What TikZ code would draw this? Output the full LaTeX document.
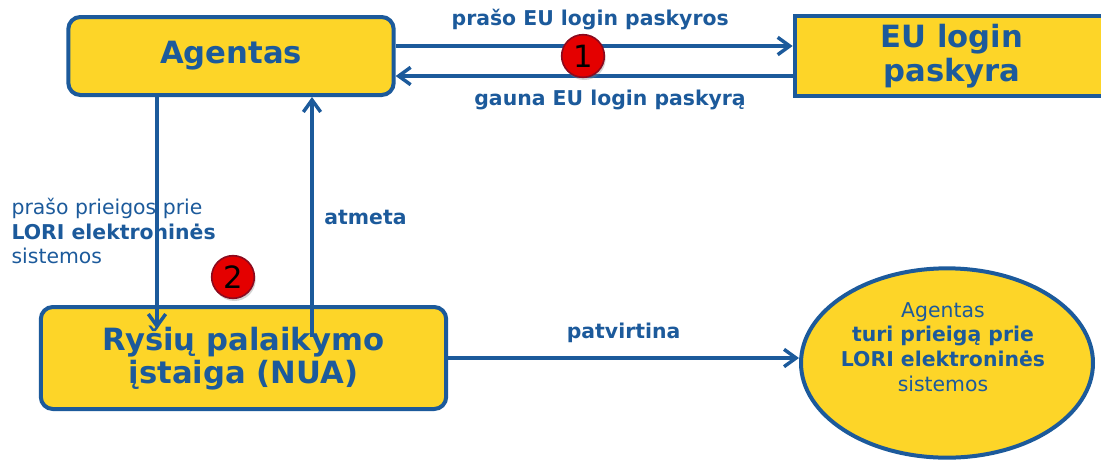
\documentclass[tikz,border=0pt]{standalone}
\usepackage{fontspec}
\setmainfont{DejaVu Sans}
\usetikzlibrary{arrows.meta,shapes.geometric,shadows}
\definecolor{eublue}{RGB}{28,90,155}
\definecolor{euyellow}{RGB}{253,213,40}
\definecolor{stepred}{RGB}{228,0,0}
\definecolor{stepedge}{RGB}{140,10,30}

\begin{document}
\begin{tikzpicture}[
  x=0.75pt, y=-0.75pt,
  box/.style={rectangle, draw=eublue, fill=euyellow, line width=3pt, text=eublue, font=\fontsize{23}{25}\selectfont\bfseries, align=center, inner sep=0pt},
  rbox/.style={box, rounded corners=9pt},
  ellbox/.style={ellipse, draw=eublue, fill=euyellow, line width=3pt, minimum width=219pt, minimum height=142pt, inner sep=0pt},
  badge/.style={circle, draw=stepedge, fill=stepred, line width=1.2pt, minimum size=32pt, inner sep=0pt, font=\fontsize{23}{23}\selectfont, drop shadow={opacity=0.35, shadow xshift=1pt, shadow yshift=-2pt}},
  lbl/.style={text=eublue, inner sep=1pt, font=\fontsize{15.3}{18.5}\selectfont\bfseries},
  arr/.style={draw=eublue, line width=2.6pt, -{Straight Barb[length=9pt,width=13pt]}}
]
\useasboundingbox (0,0) rectangle (1101,462);

% Agent and EU login account
\node[rbox, minimum width=244pt, minimum height=58.5pt] (agent) at (231,56) {Agentas};
\node[box, minimum width=236pt, minimum height=60pt] (eu) at (952,56) {EU login\\paskyra};

% Contact point and access
\node[rbox, minimum width=304pt, minimum height=76.5pt] (nua) at (243.5,358) {Ryšių palaikymo\\įstaiga (NUA)};
\node[ellbox] (access) at (947,363) {};
\node[lbl, align=center] (acctext) at (943,347) {{\mdseries Agentas}\\turi prieigą prie\\LORI elektroninės\\{\mdseries sistemos}};

% Account request
\draw[arr] (agent.east |- 0,46) -- node[lbl, pos=0.49, yshift=20pt] (askeu) {prašo EU login paskyros} (eu.west |- 0,46);
\draw[arr] (eu.west |- 0,76) -- node[lbl, pos=0.46, yshift=-18pt] (geteu) {gauna EU login paskyrą} (agent.east |- 0,76);

% Access request and rejection
\coordinate (reqend) at (157,329);
\coordinate (rejstart) at (312,337);
\draw[arr] (agent.south -| reqend) -- (reqend);
\draw[arr] (rejstart) -- node[lbl, pos=0.5, right=7pt] (rejlbl) {atmeta} (agent.south -| rejstart);
\node[lbl, anchor=west, align=left] (reqlbl) at (10,231) {{\mdseries prašo prieigos prie}\\LORI elektroninės\\{\mdseries sistemos}};

% Approval
\draw[arr] (nua.east) -- node[lbl, yshift=19pt] (oklbl) {patvirtina} (nua.east -| access.west);

% Steps
\node[badge] (one) at (583,56) {1};
\node[badge] (two) at (233,277) {2};
\end{tikzpicture}
\end{document}
